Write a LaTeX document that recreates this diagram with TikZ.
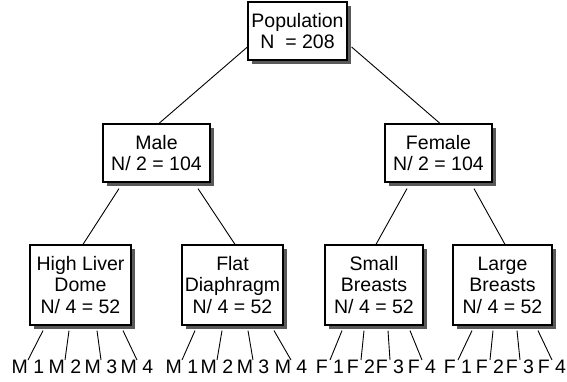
\documentclass[tikz,border=0pt]{standalone}
\usepackage{fontspec}
\setmainfont{Liberation Sans}
\usetikzlibrary{shadows}

\begin{document}
\begin{tikzpicture}[x=1pt,y=-1pt,
	box/.style={draw, line width=1.2pt, fill=white, align=center, inner sep=0pt,
		font=\fontsize{19.5}{21.5}\selectfont,
		drop shadow={shadow xshift=4pt, shadow yshift=-4pt, fill=black!65, opacity=1}},
	lab/.style={anchor=north, inner sep=0pt, font=\fontsize{19.5}{21.5}\selectfont},
	link/.style={line width=0.9pt},
	]
	\useasboundingbox (0,0) rectangle (567,382);
	% the tree
	\node[box, minimum width=99pt, minimum height=58pt] (pop) at (297.5,31) {Population\\N~~= 208};
	\node[box, minimum width=107pt, minimum height=58pt] (male) at (156.5,153) {Male\\N/ 2 = 104};
	\node[box, minimum width=107pt, minimum height=58pt] (fem) at (438.5,153) {Female\\N/ 2 = 104};
	\node[box, minimum width=101pt, minimum height=80pt] (hld) at (80.5,285) {High Liver\\Dome\\N/ 4 = 52};
	\node[box, minimum width=101pt, minimum height=80pt] (flat) at (232.5,285) {Flat\\Diaphragm\\N/ 4 = 52};
	\node[box, minimum width=98pt, minimum height=80pt] (small) at (374,285) {Small\\Breasts\\N/ 4 = 52};
	\node[box, minimum width=99pt, minimum height=80pt] (large) at (502.5,285) {Large\\Breasts\\N/ 4 = 52};

	\draw[link] ([yshift=-16pt]pop.west) -- ([xshift=2.5pt]male.north);
	\draw[link] ([xshift=4pt,yshift=-16pt]pop.east) -- ([xshift=1.5pt]fem.north);
	\draw[link] ([xshift=-37.5pt,yshift=-6pt]male.south) -- ([xshift=2.5pt]hld.north);
	\draw[link] ([xshift=41.5pt,yshift=-6pt]male.south) -- ([xshift=2.5pt]flat.north);
	\draw[link] ([xshift=-31.5pt,yshift=-6pt]fem.south) -- ([xshift=2pt]small.north);
	\draw[link] ([xshift=35.5pt,yshift=-6pt]fem.south) -- ([xshift=2.5pt]large.north);

	% leaves
	\foreach \k/\sx/\ex in {1/-37.5/28, 2/-11.5/65, 3/16.5/101, 4/42.5/137}{
		\node[lab] (hld-\k) at (\ex,360) {M \k};
		\draw[link] ([xshift=\sx pt,yshift=-5pt]hld.south) -- (hld-\k.north);
	}
	\foreach \k/\sx/\ex in {1/-37.5/182, 2/-10.5/217, 3/15.5/253, 4/41.5/291}{
		\node[lab] (flat-\k) at (\ex,360) {M \k};
		\draw[link] ([xshift=\sx pt,yshift=-5pt]flat.south) -- (flat-\k.north);
	}
	\foreach \k/\sx/\ex in {1/-32/330, 2/-10/361, 3/14/390, 4/36/422}{
		\node[lab] (small-\k) at (\ex,360) {F \k};
		\draw[link] ([xshift=\sx pt,yshift=-5pt]small.south) -- (small-\k.north);
	}
	\foreach \k/\sx/\ex in {1/-30.5/458, 2/-9.5/490, 3/14.5/520, 4/35.5/552}{
		\node[lab] (large-\k) at (\ex,360) {F \k};
		\draw[link] ([xshift=\sx pt,yshift=-5pt]large.south) -- (large-\k.north);
	}
\end{tikzpicture}
\end{document}
